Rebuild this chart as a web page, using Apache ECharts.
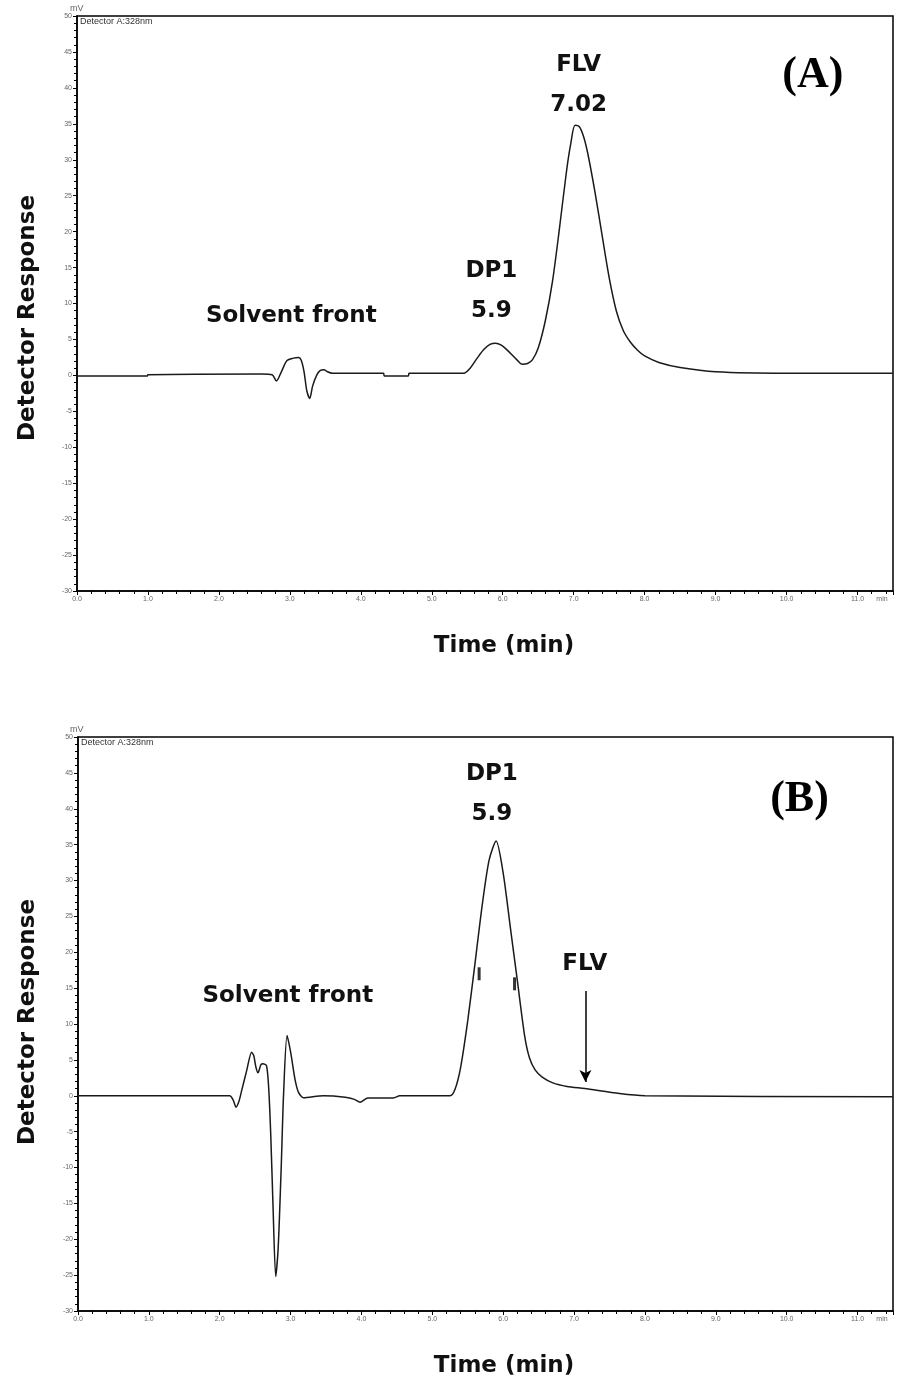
<!DOCTYPE html>
<html>
<head>
<meta charset="utf-8">
<script src="https://cdn.jsdelivr.net/npm/echarts@6/dist/echarts.min.js"></script>
<style>
  html, body { margin: 0; padding: 0; background: #fff; }
  #chart { width: 899px; height: 1386px; }
</style>
</head>
<body>
<div id="chart"></div>
<script>
// Chromatogram A: sample with FLV and DP1 (time in min, response in mV)
const traceA = [
  [0, -0.1], [0.99, -0.1], [1.0, 0.1], [2.6, 0.2], [2.75, 0.1], [2.81, -0.77], [2.88, 0.5],
  [2.96, 2.06], [3.05, 2.4], [3.12, 2.5], [3.16, 2.1], [3.2, 0.5], [3.24, -2.2], [3.28, -3.2],
  [3.32, -1.5], [3.38, 0.07], [3.43, 0.7], [3.48, 0.8], [3.53, 0.5], [3.6, 0.3], [4.32, 0.3],
  [4.33, -0.07], [4.67, -0.07], [4.68, 0.3], [5.45, 0.3], [5.54, 1.0], [5.64, 2.4], [5.73, 3.55],
  [5.82, 4.3], [5.9, 4.48], [5.98, 4.2], [6.06, 3.55], [6.2, 2.16], [6.27, 1.55], [6.35, 1.65],
  [6.42, 2.2], [6.5, 3.8], [6.6, 7.6], [6.7, 13.0], [6.8, 20.5], [6.9, 28.5], [6.96, 32.3],
  [7.02, 34.8], [7.08, 34.6], [7.14, 33.2], [7.2, 30.8], [7.3, 25.5], [7.4, 19.5], [7.5, 13.6],
  [7.6, 9.0], [7.7, 6.2], [7.8, 4.6], [7.9, 3.5], [8.0, 2.7], [8.2, 1.8], [8.5, 1.1],
  [9.0, 0.5], [10.0, 0.3], [11.5, 0.3]
];

// Chromatogram B: degraded sample, DP1 dominant
const traceB = [
  [0, 0], [2.14, 0], [2.19, -0.6], [2.23, -1.58], [2.27, -0.8], [2.31, 0.74], [2.38, 3.5],
  [2.45, 6.07], [2.48, 5.6], [2.51, 4.0], [2.54, 3.2], [2.58, 4.3], [2.61, 4.45], [2.66, 4.2],
  [2.69, 1.2], [2.72, -5.5], [2.75, -14.8], [2.79, -25.2], [2.82, -22], [2.84, -17.6],
  [2.87, -9.2], [2.9, 0.05], [2.95, 8.4], [3.0, 6.1], [3.06, 2.4], [3.11, 0.5], [3.18, -0.28],
  [3.46, 0], [3.77, -0.2], [3.9, -0.5], [3.98, -0.9], [4.09, -0.3], [4.45, -0.3], [4.54, 0],
  [5.25, 0], [5.32, 0.9], [5.4, 4.0], [5.5, 10.5], [5.6, 18.3], [5.7, 26.3], [5.8, 32.8],
  [5.9, 35.5], [6.0, 31.0], [6.1, 23.5], [6.2, 16.0], [6.3, 8.5], [6.37, 5.3], [6.45, 3.6],
  [6.55, 2.6], [6.7, 1.8], [6.9, 1.3], [7.15, 1.0], [7.64, 0.3], [8.0, 0], [11.5, -0.15]
];

// Integration start/end markers on the DP1 peak in B
const integrationMarksB = [[5.66, 17.0], [6.16, 15.6]];

// Peak annotations: [time, response, text]
const notesA = [
  [3.02, 8.3, 'Solvent front'],
  [5.84, 11.8, 'DP1\n5.9'],
  [7.07, 40.4, 'FLV\n7.02']
];
const notesB = [
  [2.96, 13.9, 'Solvent front'],
  [5.84, 42.1, 'DP1\n5.9']
];
const flvNoteB = [7.15, 18.4, 'FLV'];
const flvArrowB = [[7.16, 14.6], [7.16, 1.9]];
const panelTags = [[10.37, 41.7, '(A)'], [10.18, 41.3, '(B)']];

// Axis extents and tick spacing
const timeRange = [0, 11.5];
const timeStep = 1;
const respRange = [-30, 50];
const respStep = 5;

const grids = [
  { left: 77, top: 16, width: 816, height: 575 },
  { left: 78, top: 737, width: 815, height: 574 }
];

const tickFont = { fontSize: 7, color: '#666', fontFamily: 'Liberation Sans' };
const noteFont = { fontFamily: 'DejaVu Sans', fontWeight: 'bold', fontSize: 23, color: '#111' };

function xAxisFor(i) {
  return {
    type: 'value', gridIndex: i, min: timeRange[0], max: timeRange[1], interval: timeStep,
    axisLine: { show: true, onZero: false, lineStyle: { color: '#000', width: 1.5 } },
    axisTick: { show: true, length: 4, lineStyle: { color: '#000', width: 1 } },
    minorTick: { show: true, splitNumber: 5, length: 3, lineStyle: { color: '#000', width: 1 } },
    splitLine: { show: false },
    axisLabel: Object.assign({
      margin: 5, showMaxLabel: true,
      formatter: v => (v === timeRange[1] ? '{m|min}' : (Number.isInteger(v) ? v.toFixed(1) : '')),
      rich: { m: { fontSize: 7, color: '#666', padding: [0, 22, 0, 0] } }
    }, tickFont)
  };
}

function yAxisFor(i) {
  return {
    type: 'value', gridIndex: i, min: respRange[0], max: respRange[1], interval: respStep,
    axisLine: { show: true, onZero: false, lineStyle: { color: '#000', width: 1.5 } },
    axisTick: { show: true, length: 4, lineStyle: { color: '#000', width: 1 } },
    minorTick: { show: true, splitNumber: 5, length: 3, lineStyle: { color: '#000', width: 1 } },
    splitLine: { show: false },
    axisLabel: Object.assign({ margin: 5 }, tickFont)
  };
}

function notePoints(list) {
  return list.map(n => ({
    coord: [n[0], n[1]],
    label: { show: true, position: 'inside', formatter: n[2], lineHeight: 40, ...noteFont }
  }));
}

function tagPoint(t) {
  return {
    coord: [t[0], t[1]],
    label: {
      show: true, position: 'inside', formatter: t[2],
      fontFamily: 'Liberation Serif', fontWeight: 'bold', fontSize: 44, color: '#000'
    }
  };
}

const traceStyle = { color: '#1a1a1a', width: 1.5 };
const hiddenSymbol = { symbol: 'circle', symbolSize: 1, itemStyle: { color: 'rgba(0,0,0,0)' } };

const chart = echarts.init(document.getElementById('chart'), null, { renderer: 'canvas' });

const option = {
  animation: false,
  backgroundColor: '#fff',
  grid: grids.map(g => Object.assign({ show: true, borderColor: '#000', borderWidth: 1.5, backgroundColor: 'transparent' }, g)),
  xAxis: [xAxisFor(0), xAxisFor(1)],
  yAxis: [yAxisFor(0), yAxisFor(1)],
  series: [
    {
      type: 'line', xAxisIndex: 0, yAxisIndex: 0, data: traceA, showSymbol: false,
      smooth: 0.3, lineStyle: traceStyle, itemStyle: { color: '#1a1a1a' },
      markPoint: Object.assign({ data: notePoints(notesA).concat([tagPoint(panelTags[0])]) }, hiddenSymbol)
    },
    {
      type: 'line', xAxisIndex: 1, yAxisIndex: 1, data: traceB, showSymbol: false,
      smooth: 0.25, lineStyle: traceStyle, itemStyle: { color: '#1a1a1a' },
      markPoint: Object.assign({
        data: notePoints(notesB).concat([
          { coord: [flvNoteB[0], flvNoteB[1]], label: { show: true, position: 'inside', formatter: flvNoteB[2], ...noteFont } },
          tagPoint(panelTags[1])
        ])
      }, hiddenSymbol),
      markLine: {
        silent: true, symbol: ['none', 'arrow'], symbolSize: [9, 12],
        lineStyle: { color: '#000', width: 1.5, type: 'solid' },
        label: { show: false },
        data: [[{ coord: flvArrowB[0] }, { coord: flvArrowB[1] }]]
      }
    },
    {
      type: 'scatter', xAxisIndex: 1, yAxisIndex: 1, data: integrationMarksB,
      symbol: 'rect', symbolSize: [3, 13], itemStyle: { color: '#000' }
    }
  ],
  graphic: [
    { type: 'text', left: 70, top: 4, style: { text: 'mV', fontSize: 9, fill: '#666', fontFamily: 'Liberation Sans' } },
    { type: 'text', left: 80, top: 17, style: { text: 'Detector A:328nm', fontSize: 9, fill: '#333', fontFamily: 'Liberation Sans' } },
    { type: 'text', left: 70, top: 725, style: { text: 'mV', fontSize: 9, fill: '#666', fontFamily: 'Liberation Sans' } },
    { type: 'text', left: 81, top: 738, style: { text: 'Detector A:328nm', fontSize: 9, fill: '#333', fontFamily: 'Liberation Sans' } },
    { type: 'text', x: 28, y: 318, rotation: Math.PI / 2, style: { text: 'Detector Response', align: 'center', verticalAlign: 'middle', font: 'bold 23px "DejaVu Sans"', fill: '#111' } },
    { type: 'text', x: 28, y: 1022, rotation: Math.PI / 2, style: { text: 'Detector Response', align: 'center', verticalAlign: 'middle', font: 'bold 23px "DejaVu Sans"', fill: '#111' } },
    { type: 'text', x: 504, y: 646, style: { text: 'Time (min)', align: 'center', verticalAlign: 'middle', font: 'bold 23px "DejaVu Sans"', fill: '#111' } },
    { type: 'text', x: 504, y: 1366, style: { text: 'Time (min)', align: 'center', verticalAlign: 'middle', font: 'bold 23px "DejaVu Sans"', fill: '#111' } }
  ]
};

chart.setOption(option);
</script>
</body>
</html>
